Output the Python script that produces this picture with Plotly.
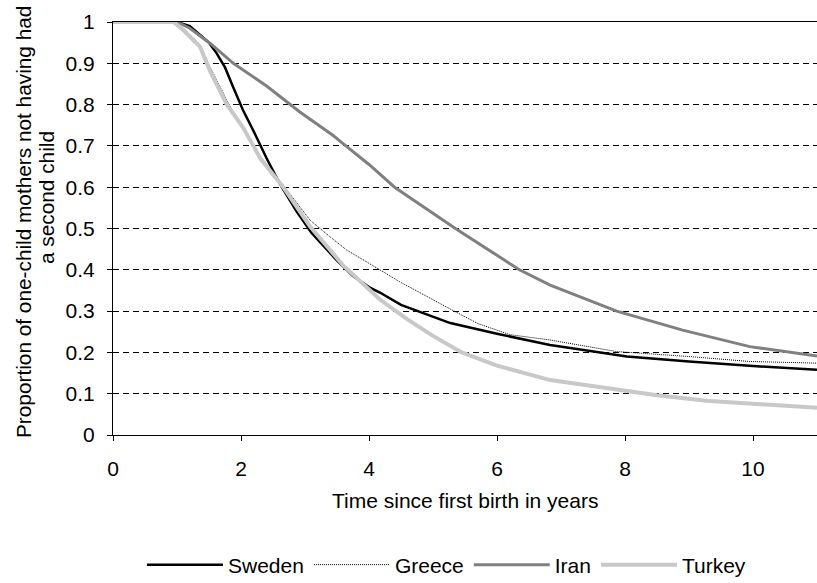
import plotly.graph_objects as go

# ---- data ----
sweden_t = [0, 1.0, 1.2, 1.36, 1.5, 1.62, 1.75, 1.875, 2.03, 2.19, 2.4, 2.6, 2.87, 3.1, 3.34, 3.49, 3.75, 4.0, 4.17, 4.5, 5.27, 6.0, 6.83, 7.5, 8.03, 9.0, 10.0, 11.0]
sweden_p = [1, 1, 0.99, 0.969, 0.95, 0.924, 0.89, 0.843, 0.787, 0.738, 0.67, 0.61, 0.541, 0.49, 0.448, 0.424, 0.385, 0.358, 0.345, 0.315, 0.271, 0.245, 0.218, 0.203, 0.19, 0.178, 0.167, 0.158]

greece_t = [0, 0.95, 1.1, 1.36, 1.52, 1.78, 2.03, 2.3, 2.66, 3.08, 3.39, 3.65, 4.17, 4.48, 5.27, 5.7, 6.2, 6.83, 7.87, 9.0, 9.95, 11.0]
greece_p = [1, 1, 0.985, 0.945, 0.89, 0.81, 0.74, 0.675, 0.605, 0.52, 0.48, 0.448, 0.40, 0.371, 0.305, 0.27, 0.243, 0.23, 0.202, 0.19, 0.178, 0.174]

iran_t = [0, 1.0, 1.2, 1.52, 1.88, 2.4, 2.92, 3.44, 3.6, 4.0, 4.4, 5.35, 6.0, 6.35, 6.83, 7.87, 8.9, 9.95, 11.0]
iran_p = [1, 1, 0.985, 0.948, 0.90, 0.845, 0.782, 0.725, 0.705, 0.655, 0.60, 0.50, 0.435, 0.40, 0.363, 0.30, 0.254, 0.214, 0.191]

turkey_t = [0, 0.95, 1.1, 1.36, 1.52, 1.78, 2.03, 2.3, 2.66, 3.08, 3.6, 4.17, 4.6, 5.0, 5.45, 6.0, 6.83, 7.87, 8.5, 9.27, 10.0, 11.0]
turkey_p = [1, 1, 0.98, 0.94, 0.88, 0.80, 0.745, 0.67, 0.60, 0.505, 0.41, 0.328, 0.28, 0.24, 0.20, 0.168, 0.133, 0.109, 0.096, 0.083, 0.076, 0.066]

x_ticks = [0, 2, 4, 6, 8, 10]
y_ticks = [0, 0.1, 0.2, 0.3, 0.4, 0.5, 0.6, 0.7, 0.8, 0.9, 1]
y_tick_labels = ["0", "0.1", "0.2", "0.3", "0.4", "0.5", "0.6", "0.7", "0.8", "0.9", "1"]

FONT = "Liberation Sans, Arial, sans-serif"
FS = 21

fig = go.Figure()
fig.add_trace(go.Scatter(x=sweden_t, y=sweden_p, mode="lines", name="Sweden",
                         line=dict(color="#000000", width=2.5)))
fig.add_trace(go.Scatter(x=greece_t, y=greece_p, mode="lines", name="Greece",
                         line=dict(color="#000000", width=1, dash="1px,1px")))
fig.add_trace(go.Scatter(x=iran_t, y=iran_p, mode="lines", name="Iran",
                         line=dict(color="#808080", width=3)))
fig.add_trace(go.Scatter(x=turkey_t, y=turkey_p, mode="lines", name="Turkey",
                         line=dict(color="#c8c8c8", width=4)))

PH = 413.0  # plot height in px
PW = 704.0  # plot width in px

fig.update_layout(
    width=817, height=583,
    margin=dict(l=113, r=0, t=22, b=583 - 435, autoexpand=False),
    paper_bgcolor="white", plot_bgcolor="white",
    font=dict(family=FONT, size=FS, color="#000000"),
    showlegend=True,
    legend=dict(orientation="h", xanchor="left", x=(142 - 113) / PW, yanchor="middle",
                y=(435 - 565) / PH, itemwidth=76, font=dict(size=FS),
                bgcolor="rgba(0,0,0,0)"),
    annotations=[
        dict(text="Time since first birth in years", xref="paper", yref="paper",
             x=0.5, y=(435 - 500) / PH, showarrow=False, xanchor="center", yanchor="middle",
             font=dict(size=FS)),
        dict(text="Proportion of one-child mothers not having had",
             xref="paper", yref="paper", x=(24 - 113) / PW, y=(435 - 222) / PH,
             showarrow=False, textangle=-90, xanchor="center", yanchor="middle",
             font=dict(size=20.8)),
        dict(text="a second child",
             xref="paper", yref="paper", x=(46 - 113) / PW, y=(435 - 198) / PH,
             showarrow=False, textangle=-90, xanchor="center", yanchor="middle",
             font=dict(size=20.8)),
    ],
)
fig.update_xaxes(range=[0, 11], tickvals=x_ticks, ticks="outside", ticklen=5,
                 tickcolor="#000", showline=True, linecolor="#000", linewidth=1,
                 mirror=True, showgrid=False, zeroline=False, ticklabelstandoff=10,
                 automargin=False, tickfont=dict(size=FS))
fig.update_yaxes(range=[0, 1], tickvals=y_ticks, ticktext=y_tick_labels, ticks="outside",
                 ticklen=5, tickcolor="#000", showline=True, linecolor="#000", linewidth=1,
                 showgrid=True, gridcolor="#000", gridwidth=1, griddash="6px,4px",
                 zeroline=False, ticklabelstandoff=8, automargin=False,
                 tickfont=dict(size=FS))

fig.write_html("out.html", config={"displayModeBar": False},
               post_script="document.body.style.margin='0px';document.body.style.overflow='hidden';")
